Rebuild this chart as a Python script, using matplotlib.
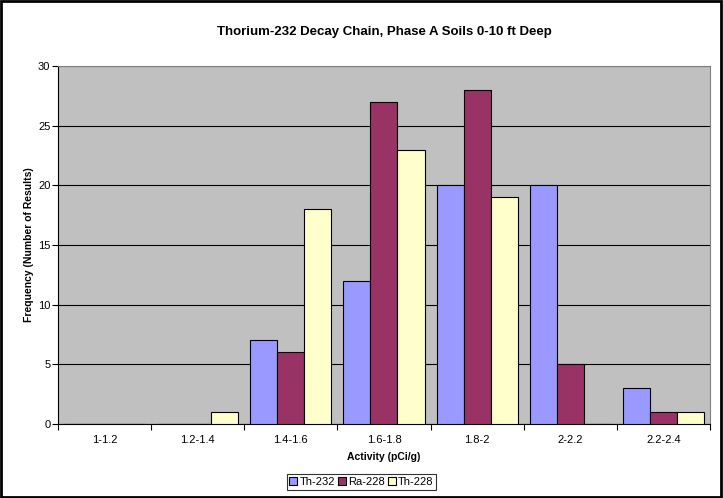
import numpy as np
import matplotlib.pyplot as plt
from matplotlib.patches import Rectangle

plt.rcParams['font.family'] = ['Liberation Sans', 'DejaVu Sans']

# Histogram bins and counts per nuclide
bins = ['1-1.2', '1.2-1.4', '1.4-1.6', '1.6-1.8', '1.8-2', '2-2.2', '2.2-2.4']
th232 = [0, 0, 7, 12, 20, 20, 3]
ra228 = [0, 0, 6, 27, 28, 5, 1]
th228 = [0, 1, 18, 23, 19, 0, 1]

series = [('Th-232', th232, '#9999FF'),
          ('Ra-228', ra228, '#993366'),
          ('Th-228', th228, '#FFFFCC')]

fig = plt.figure(figsize=(7.23, 4.98), dpi=100)
ax = fig.add_axes([0.0802, 0.1486, 0.9018, 0.7189])
ax.set_facecolor('#C0C0C0')

x = np.arange(len(bins))
w = 0.29
for i, (name, vals, col) in enumerate(series):
    ax.bar(x + (i - 1) * w, vals, width=w, color=col, edgecolor='black',
           linewidth=0.8, label=name, zorder=3)

ax.set_xlim(-0.5, len(bins) - 0.5)
ax.set_ylim(0, 30)
ax.set_yticks(range(0, 31, 5))
ax.yaxis.grid(True, color='black', linewidth=0.8, zorder=1)
ax.set_axisbelow(True)

# category labels between tick marks, like Excel
ax.set_xticks(np.arange(-0.5, len(bins), 1))
ax.set_xticklabels([])
ax.set_xticks(x, minor=True)
ax.set_xticklabels(bins, minor=True, fontsize=8)
ax.tick_params(axis='x', which='minor', length=0, pad=8)
ax.tick_params(axis='x', which='major', length=4, direction='out')
ax.tick_params(axis='y', labelsize=8, length=4, direction='out', pad=1.5)

for s in ['top', 'right']:
    ax.spines[s].set_color('#808080')
for s in ['left', 'bottom']:
    ax.spines[s].set_color('black')

ax.set_title('Thorium-232 Decay Chain, Phase A Soils 0-10 ft Deep',
             fontsize=9.5, fontweight='bold', pad=22)
ax.set_xlabel('Activity (pCi/g)', fontsize=7.5, fontweight='bold', labelpad=5)
ax.set_ylabel('Frequency (Number of Results)', fontsize=7.5, fontweight='bold', labelpad=3)

handles, labels = ax.get_legend_handles_labels()
leg = fig.legend(handles, labels, loc='center', bbox_to_anchor=(0.5, 0.032), ncol=3,
                 fontsize=8, frameon=True, fancybox=False, edgecolor='black',
                 handlelength=0.7, handleheight=0.7, handletextpad=0.2,
                 columnspacing=0.3, borderpad=0.25)
leg.get_frame().set_linewidth(0.8)

# outer chart border
fig.patches.append(Rectangle((0.002, 0.003), 0.995, 0.994, transform=fig.transFigure,
                             fill=False, edgecolor='black', linewidth=2))

fig.savefig('out.png', dpi=100)
